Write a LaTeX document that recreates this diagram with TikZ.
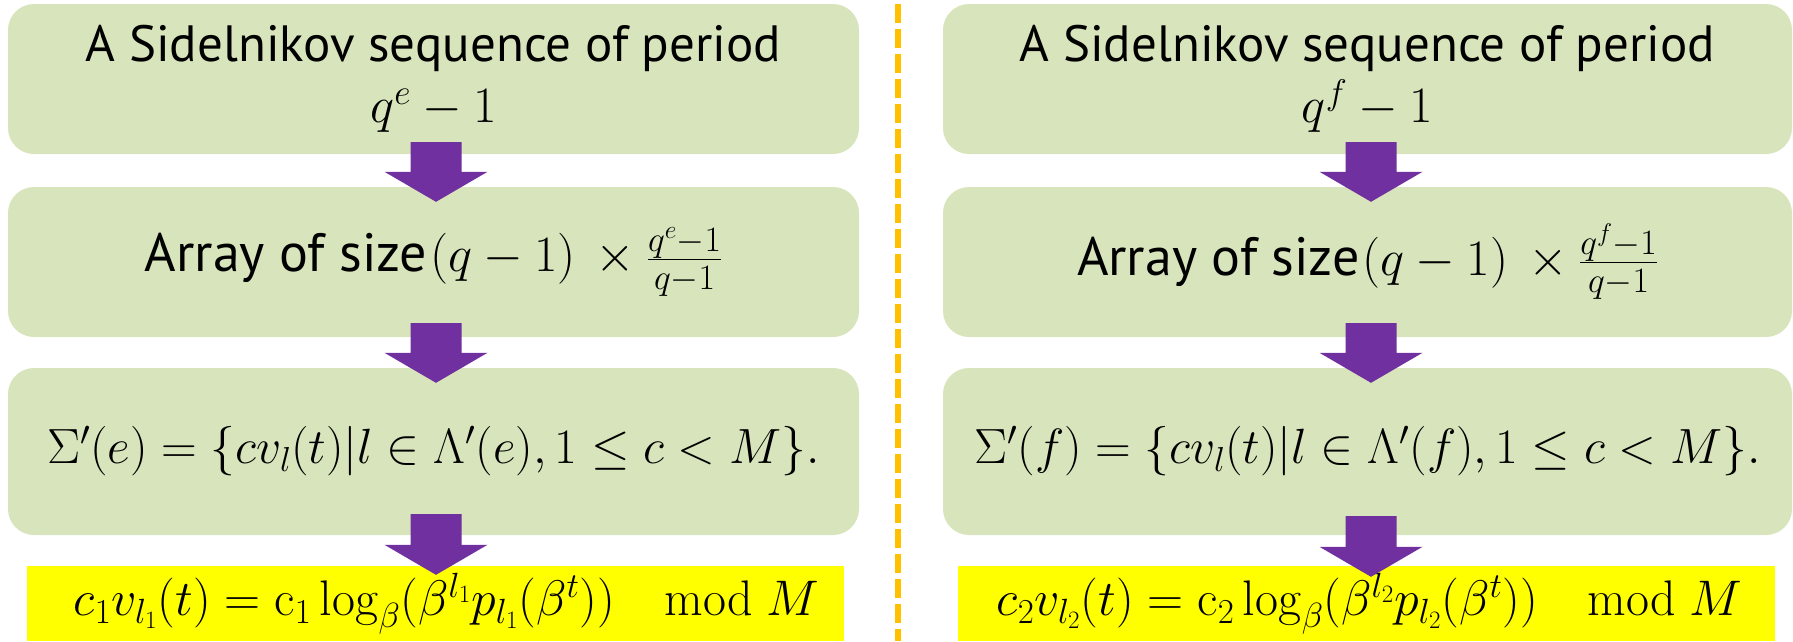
\RequirePackage{fix-cm}
\documentclass[tikz,border=0pt]{standalone}
\usepackage[no-math]{fontspec}
\setmainfont{PT Sans}
\usetikzlibrary{calc}
\definecolor{boxgreen}{HTML}{D8E4BC}
\definecolor{arrowpurple}{HTML}{7030A0}
\definecolor{hiyellow}{HTML}{FFFF00}
\definecolor{dashorange}{HTML}{FFC000}
\newcommand{\txtsize}{\fontsize{51}{61}\selectfont}
\newcommand{\arrsize}{\fontsize{54}{61}\selectfont}
\newcommand{\mthsize}{\fontsize{51}{61}\selectfont}
\newcommand{\setsize}{\fontsize{49.5}{58}\selectfont}
\newcommand{\ysize}{\fontsize{50}{56}\selectfont}
\tikzset{
  greenbox/.style={fill=boxgreen, draw=none, rounded corners=26pt, inner sep=0pt,
    align=center, text=black, font=\txtsize},
  yellowbox/.style={fill=hiyellow, draw=none, inner sep=0pt, text=black, font=\ysize},
  arrowfill/.style={fill=arrowpurple, draw=none},
  divider/.style={draw=dashorange, line width=6pt, dash pattern=on 19pt off 6pt, dash phase=21pt}
}
\newcommand{\blockarrow}[2]{%
  \fill[arrowfill] ($(#1)+(-25.5,0)$) -- ($(#1)+(25.5,0)$) -- ($(#2)+(25.5,-30)$)
    -- ($(#2)+(51.5,-30)$) -- (#2) -- ($(#2)+(-51.5,-30)$) -- ($(#2)+(-25.5,-30)$) -- cycle;}
\begin{document}
\begin{tikzpicture}[x=1pt,y=-1pt]
\useasboundingbox (0,0) rectangle (1793,641);
% left column
\node[greenbox, minimum width=851pt, minimum height=150pt] (l1) at (433.5,79)
  {A Sidelnikov sequence of period\\{\mthsize$q^e-1$}};
\node[greenbox, minimum width=851pt, minimum height=150pt] (l2) at (433.5,262)
  {\arrsize Array of size\hspace{3pt}{\mthsize$(q-1)\,\times\frac{q^e-1}{q-1}$}};
\node[greenbox, minimum width=851pt, minimum height=167pt] (l3) at (433.5,451.5)
  {\setsize$\Sigma'(e)=\{cv_l(t)|l\in\Lambda'(e),1\leq c<M\}.$};
\node[yellowbox, minimum width=817pt, minimum height=75pt] (l4) at (435.5,603.5)
  {\hspace*{22pt}$c_1v_{l_1}(t)=\mathrm{c}_1\log_\beta(\beta^{l_1}p_{l_1}(\beta^t))\quad\mathrm{mod}\ M$};
% right column
\node[greenbox, minimum width=849pt, minimum height=150pt] (r1) at (1367.5,79)
  {A Sidelnikov sequence of period\\{\mthsize$q^f-1$}};
\node[greenbox, minimum width=849pt, minimum height=150pt] (r2) at (1367.5,262)
  {\arrsize Array of size\hspace{3pt}{\mthsize$(q-1)\,\times\frac{q^f-1}{q-1}$}};
\node[greenbox, minimum width=849pt, minimum height=167pt] (r3) at (1367.5,451.5)
  {\setsize$\Sigma'(f)=\{cv_l(t)|l\in\Lambda'(f),1\leq c<M\}.$};
\node[yellowbox, minimum width=817pt, minimum height=75pt] (r4) at (1366.5,603.5)
  {\hspace*{6pt}$c_2v_{l_2}(t)=\mathrm{c}_2\log_\beta(\beta^{l_2}p_{l_2}(\beta^t))\quad\mathrm{mod}\ M$};
% arrows
\coordinate (la1s) at ($(l1.south)+(2.5,-12)$);
\coordinate (la1t) at ($(l2.north)+(2.5,15)$);
\coordinate (la2s) at ($(l2.south)+(2.5,-14)$);
\coordinate (la2t) at ($(l3.north)+(2.5,15)$);
\coordinate (la3s) at ($(l3.south)+(2.5,-21)$);
\coordinate (la3t) at ($(l4.north)+(0.5,9)$);
\coordinate (ra1s) at ($(r1.south)+(3.5,-12)$);
\coordinate (ra1t) at ($(r2.north)+(3.5,15)$);
\coordinate (ra2s) at ($(r2.south)+(3.5,-14)$);
\coordinate (ra2t) at ($(r3.north)+(3.5,15)$);
\coordinate (ra3s) at ($(r3.south)+(3.5,-19)$);
\coordinate (ra3t) at ($(r4.north)+(4.5,11)$);
\blockarrow{la1s}{la1t}
\blockarrow{la2s}{la2t}
\blockarrow{la3s}{la3t}
\blockarrow{ra1s}{ra1t}
\blockarrow{ra2s}{ra2t}
\blockarrow{ra3s}{ra3t}
% divider
\coordinate (dtop) at (898,0);
\coordinate (dbot) at (898,641);
\draw[divider] (dtop) -- (dbot);
\end{tikzpicture}
\end{document}
